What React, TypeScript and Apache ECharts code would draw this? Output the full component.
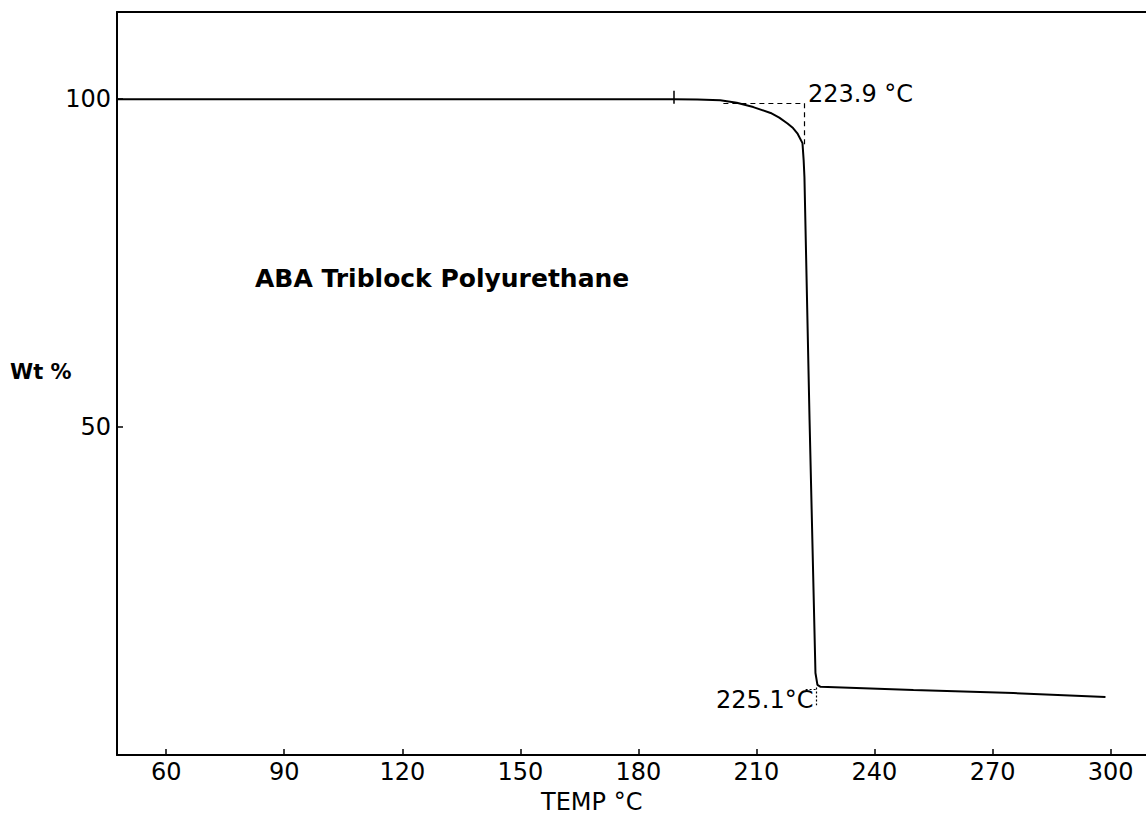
import React, { useEffect, useRef } from "react";
import * as echarts from "echarts";

// Thermogravimetric curve: temperature (°C) vs weight (%)
const temps = [47.5, 120, 180, 189, 195, 200.8, 205, 209.2, 213.6, 215.8, 217.9, 219.3, 220.4, 221.7, 222.0, 222.2, 223.5, 225.0, 225.5, 226.3, 249.9, 275.3, 298.7];
const weights = [100, 100, 100, 100, 99.95, 99.85, 99.45, 98.8, 97.9, 97.2, 96.3, 95.6, 94.8, 93.3, 90.7, 88.1, 51.1, 12.5, 10.7, 10.4, 9.9, 9.45, 8.84];

const xTicks = [60, 90, 120, 150, 180, 210, 240, 270, 300];
const yTicks = [50, 100];

// onset construction lines (dashed) for 223.9 °C
const onsetH = [[201.6, 99.4], [222.2, 99.4]];
const onsetV = [[222.2, 99.4], [222.2, 93.0]];
// end construction lines (dotted) for 225.1 °C
const endH = [[222.5, 10.06], [225.1, 10.06]];
const endV = [[225.2, 10.3], [225.2, 7.6]];
// small cross mark on the curve
const crossMark = [[188.9, 99.3], [188.9, 101.3]];

const X_MIN = 47.5;
const X_MAX = 309;
const Y_MIN = 0;
const Y_MAX = 113.3;

const FONT = "DejaVu Sans";

export default function App() {
  const ref = useRef<HTMLDivElement>(null);

  useEffect(() => {
    if (!ref.current) return;
    const chart = echarts.init(ref.current, undefined, { renderer: "svg" });
    const seriesData = temps.map((t, i) => [t, weights[i]]);
    const seg = (pts: number[][], style: any) => [
      { coord: pts[0], lineStyle: style },
      { coord: pts[1] },
    ];
    const dashed = { color: "#000", width: 1.2, type: [5, 4] };
    const dotted = { color: "#000", width: 1.2, type: [2, 2] };
    const solid = { color: "#000", width: 1.5, type: "solid" };

    chart.setOption({
      animation: false,
      backgroundColor: "#ffffff",
      grid: { left: 117, right: 0, top: 12, bottom: 69 },
      xAxis: [
        {
          type: "value",
          min: X_MIN,
          max: X_MAX,
          position: "bottom",
          splitLine: { show: false },
          axisLine: { show: true, onZero: false, lineStyle: { color: "#000", width: 2 } },
          axisTick: {
            show: true,
            inside: true,
            length: 6,
            customValues: xTicks,
            lineStyle: { color: "#000", width: 1.5 },
          },
          axisLabel: {
            show: true,
            customValues: xTicks,
            margin: 5,
            color: "#000",
            fontFamily: FONT,
            fontSize: 24,
          },
        },
        {
          type: "value",
          min: X_MIN,
          max: X_MAX,
          position: "top",
          splitLine: { show: false },
          axisLine: { show: true, onZero: false, lineStyle: { color: "#000", width: 2 } },
          axisTick: { show: false },
          axisLabel: { show: false },
        },
      ],
      yAxis: {
        type: "value",
        min: Y_MIN,
        max: Y_MAX,
        splitLine: { show: false },
        axisLine: { show: true, onZero: false, lineStyle: { color: "#000", width: 2 } },
        axisTick: {
          show: true,
          inside: true,
          length: 6,
          customValues: yTicks,
          lineStyle: { color: "#000", width: 1.5 },
        },
        axisLabel: {
          show: true,
          customValues: yTicks,
          margin: 6,
          color: "#000",
          fontFamily: FONT,
          fontSize: 24,
        },
      },
      series: [
        {
          type: "line",
          xAxisIndex: 0,
          data: seriesData,
          showSymbol: false,
          symbol: "none",
          lineStyle: { color: "#000", width: 2 },
          markLine: {
            silent: true,
            symbol: "none",
            label: { show: false },
            lineStyle: dashed,
            data: [
              seg(onsetH, dashed),
              seg(onsetV, dashed),
              seg(endH, dotted),
              seg(endV, dotted),
              seg(crossMark, solid),
            ],
          },
        },
      ],
      graphic: [
        {
          type: "text",
          left: 10,
          top: 361,
          style: { text: "Wt %", fill: "#000", font: `bold 21px '${FONT}'` },
        },
        {
          type: "text",
          left: 255,
          top: 266,
          style: { text: "ABA Triblock Polyurethane", fill: "#000", font: `bold 25px '${FONT}'` },
        },
        {
          type: "text",
          left: 808,
          top: 82,
          style: { text: "223.9 °C", fill: "#000", font: `24px '${FONT}'` },
        },
        {
          type: "text",
          left: 716,
          top: 688,
          style: { text: "225.1°C", fill: "#000", font: `24px '${FONT}'` },
        },
        {
          type: "text",
          left: 541,
          top: 790,
          style: { text: "TEMP °C", fill: "#000", font: `24px '${FONT}'` },
        },
      ],
    });

    return () => chart.dispose();
  }, []);

  return (
    <div
      ref={ref}
      style={{ position: "fixed", left: 0, top: 0, width: 1146, height: 824, background: "#fff" }}
    />
  );
}
